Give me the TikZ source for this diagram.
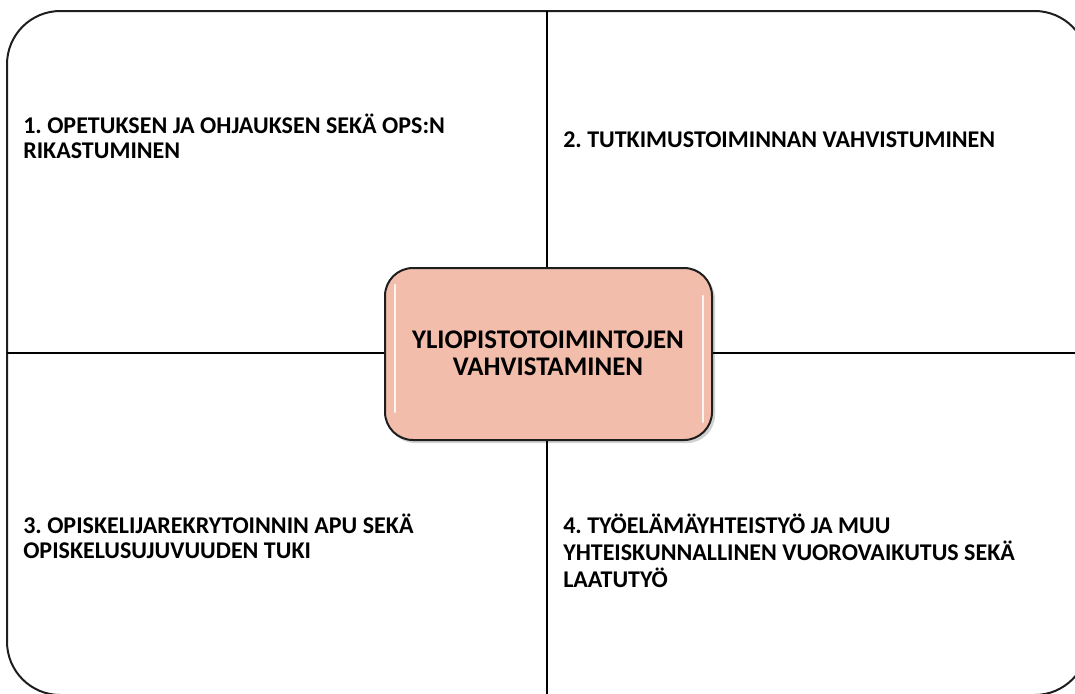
\documentclass[tikz,border=0pt]{standalone}
\usepackage{fontspec}
\setmainfont{Carlito}
\frenchspacing
\definecolor{boxfill}{RGB}{242,189,170}
\definecolor{linegray}{RGB}{30,30,30}
\tikzset{
  frame/.style={draw=linegray, line width=1.5pt},
  divider/.style={draw=black, line width=1.5pt},
  corner/.style={anchor=base west, inner sep=0pt, font=\bfseries\fontsize{18}{18.75}\selectfont},
  centerbox/.style={draw=linegray, line width=1.5pt, fill=boxfill, rounded corners=21pt},
  gloss/.style={draw=white, line width=2pt, line cap=round, opacity=0.85}
}
\begin{document}
\begin{tikzpicture}[x=0.75pt, y=-0.75pt]
\useasboundingbox (0,0) rectangle (1075,693);
\clip (0,0) rectangle (1075,693);
% outer frame
\draw[frame, rounded corners=40pt] (7,11) rectangle (1088,695);
% coordinates for dividers
\coordinate (top) at (546.5,11);
\coordinate (bot) at (546.5,695);
\coordinate (left) at (7,353);
\coordinate (right) at (1088,353);
\draw[divider] (top) -- (bot);
\draw[divider] (left) -- (right);
% shadow
\fill[black, opacity=0.18, rounded corners=21pt] (387,271) rectangle (715,443);
% center box
\draw[centerbox] (385,268) rectangle (712,440);
\coordinate (cbox) at (548.5,354);
\draw[gloss] (395,285) -- (395,412);
\draw[gloss] (703,296) -- (703,422);
\node[anchor=base, inner sep=0pt, font=\bfseries\fontsize{20.2}{20.25}\selectfont] (ctext) at (548,348)
  {\begin{tabular}[t]{@{}c@{}}YLIOPISTOTOIMINTOJEN\\VAHVISTAMINEN\end{tabular}};
% corner texts
\node[corner] (q1) at (23,133) {\begin{tabular}[t]{@{}l@{}}1. OPETUKSEN JA OHJAUKSEN SEKÄ OPS:N\\RIKASTUMINEN\end{tabular}};
\node[corner] (q2) at (563,147) {\begin{tabular}[t]{@{}l@{}}2. TUTKIMUSTOIMINNAN VAHVISTUMINEN\end{tabular}};
\node[corner] (q3) at (23,533) {\begin{tabular}[t]{@{}l@{}}3. OPISKELIJAREKRYTOINNIN APU SEKÄ\\OPISKELUSUJUVUUDEN TUKI\end{tabular}};
\node[corner] (q4) at (563,533) {\begin{tabular}[t]{@{}l@{}}4. TYÖELÄMÄYHTEISTYÖ JA MUU\\YHTEISKUNNALLINEN VUOROVAIKUTUS SEKÄ\\LAATUTYÖ\end{tabular}};
\end{tikzpicture}
\end{document}
